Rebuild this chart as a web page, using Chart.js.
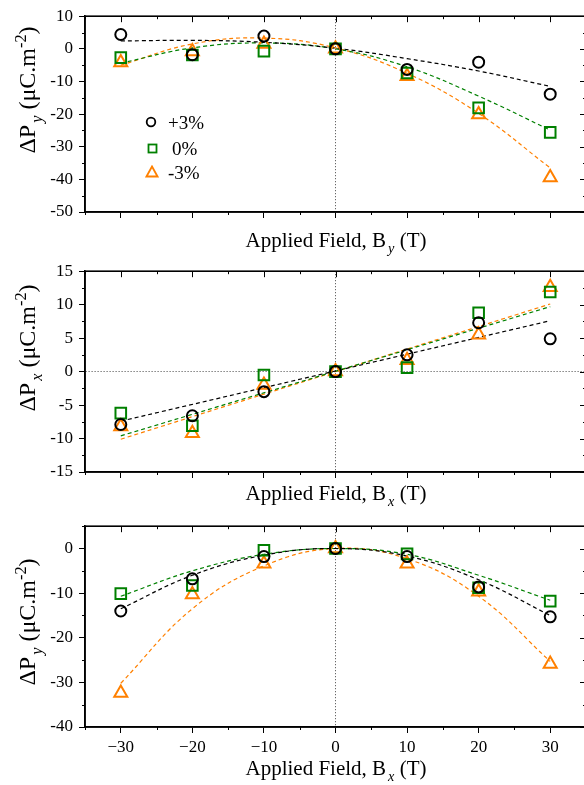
<!DOCTYPE html>
<html>
<head>
<meta charset="utf-8">
<script src="https://cdn.jsdelivr.net/npm/chart.js@4.4.1/dist/chart.umd.min.js"></script>
<style>
  body { margin: 0; width: 584px; height: 785px; overflow: hidden; background: #fff; position: relative; font-family: "Liberation Serif", serif; color: #000; }
  canvas { position: absolute; left: 0; }
  .xt { position: absolute; font-size: 21px; line-height: 1; transform: translate(-50%, -50%); white-space: nowrap; }
  .yt { position: absolute; font-size: 24px; line-height: 1; transform: translate(-50%, -50%) rotate(-90deg); white-space: nowrap; }
  sub, sup { font-size: 0.68em; line-height: 0; }
  sub { vertical-align: -0.45em; margin-left: 2px; }
  sup { vertical-align: 0.55em; }
  .lg { position: absolute; font-size: 19px; line-height: 1; transform: translateY(-50%); }
  .lm { position: absolute; }
</style>
</head>
<body>
<canvas id="p1" width="600" height="255" style="top:0px"></canvas>
<canvas id="p2" width="600" height="255" style="top:255px"></canvas>
<canvas id="p3" width="600" height="275" style="top:510px"></canvas>

<div class="yt" style="left:27px; top:90px">ΔP<sub><i>y</i></sub> (μC.m<sup>-2</sup>)</div>
<div class="yt" style="left:27px; top:348px">ΔP<sub><i>x</i></sub> (μC.m<sup>-2</sup>)</div>
<div class="yt" style="left:27px; top:622px">ΔP<sub><i>y</i></sub> (μC.m<sup>-2</sup>)</div>

<div class="xt" style="left:336px; top:240px">Applied Field, B<sub><i>y</i></sub> (T)</div>
<div class="xt" style="left:336px; top:493px">Applied Field, B<sub><i>x</i></sub> (T)</div>
<div class="xt" style="left:336px; top:768px">Applied Field, B<sub><i>x</i></sub> (T)</div>

<!-- legend, top panel -->
<svg class="lm" style="left:145px; top:116px" width="12" height="12"><circle cx="6" cy="6" r="4.3" fill="none" stroke="#000" stroke-width="1.8"/></svg>
<div class="lg" style="left:168px; top:122px">+3%</div>
<svg class="lm" style="left:147px; top:143px" width="11" height="11"><rect x="1.5" y="1.5" width="8" height="8" fill="none" stroke="#008000" stroke-width="1.8"/></svg>
<div class="lg" style="left:172px; top:148px">0%</div>
<svg class="lm" style="left:145px; top:165px" width="14" height="13"><polygon points="7,1.5 12.5,11.5 1.5,11.5" fill="none" stroke="#ff8000" stroke-width="1.8"/></svg>
<div class="lg" style="left:168px; top:172px">-3%</div>

<script>
// field values (T)
const fields = [-30, -20, -10, 0, 10, 20, 30];
const fitEnds = [-30, 30];

// top: dPy vs By
const pyByPlus = [4.4, -1.8, 3.9, 0, -6.3, -4.1, -13.9];
const pyByZero = [-2.7, -1.9, -0.7, 0, -7.4, -18.1, -25.6];
const pyByMinus = [-4.2, -0.8, 1.5, 0, -8.4, -20.1, -39.4];
const pyByFitPlus = [2.4, 2.6, 2.0, 0.2, -3.0, -6.8, -11.5];
const pyByFitZero = [-4.4, 0.3, 1.8, 0, -5.5, -14.5, -24.9];
const pyByFitMinus = [-5.0, 1.5, 3.3, 0.3, -7.5, -19.8, -36.5];

// middle: dPx vs Bx
const pxBxPlus = [-7.9, -6.6, -3.0, 0, 2.5, 7.3, 4.9];
const pxBxZero = [-6.2, -8.1, -0.5, 0, 0.6, 8.8, 11.9];
const pxBxMinus = [-8.2, -9.2, -2.0, 0, 1.7, 5.5, 12.6];
const pxBxFitPlus = [-7.4, 7.6];
const pxBxFitZero = [-9.6, 9.7];
const pxBxFitMinus = [-10.1, 10.1];

// bottom: dPy vs Bx
const pyBxPlus = [-14.0, -6.8, -1.8, 0, -1.8, -8.6, -15.3];
const pyBxZero = [-10.1, -8.3, -0.4, 0, -1.2, -8.8, -11.8];
const pyBxMinus = [-32.4, -10.3, -3.4, 0, -3.4, -9.7, -25.9];
const pyBxFitPlus = [-13.5, -6.0, -1.5, 0, -1.7, -7.0, -15.0];
const pyBxFitZero = [-10.7, -5.0, -1.3, 0, -1.3, -6.0, -11.6];
const pyBxFitMinus = [-30.2, -13.5, -3.9, 0, -2.3, -10.7, -25.3];

const black = '#000000';
const green = '#008000';
const orange = '#ff8000';
const tickFont = { family: 'Liberation Serif', size: 17 };

function pts(xs, ys) {
  return xs.map((x, i) => ({ x: x, y: ys[i] }));
}

function markers(ys, color, style, r) {
  return {
    data: pts(fields, ys),
    showLine: false,
    pointStyle: style,
    pointRadius: r,
    pointBorderWidth: 2,
    pointBorderColor: color,
    pointBackgroundColor: 'rgba(0,0,0,0)',
  };
}

function fitLine(xs, ys, color) {
  return {
    data: pts(xs, ys),
    showLine: true,
    pointRadius: 0,
    borderColor: color,
    borderWidth: 1.2,
    borderDash: [4, 3],
    tension: 0.4,
    fill: false,
  };
}

function isMajor(v, step) {
  return Math.abs(v % step) < 1e-6;
}

// box round the plot + inward ticks on top/right + short minor ticks
const framePlugin = {
  id: 'frame',
  afterDraw(chart, args, opts) {
    const { ctx, chartArea: a } = chart;
    const xs = chart.scales.x;
    const ys = chart.scales.y;
    ctx.save();
    ctx.strokeStyle = '#000';
    ctx.lineWidth = 1.6;
    ctx.strokeRect(a.left, a.top, a.right - a.left, a.bottom - a.top);
    ctx.lineWidth = 1;
    ctx.beginPath();
    xs.ticks.forEach(t => {
      const px = Math.round(xs.getPixelForValue(t.value)) + 0.5;
      const major = isMajor(t.value, opts.xMajor);
      ctx.moveTo(px, a.top);
      ctx.lineTo(px, a.top + (major ? 6 : 3));
      if (!major) {
        ctx.moveTo(px, a.bottom);
        ctx.lineTo(px, a.bottom + 3);
      }
    });
    ys.ticks.forEach(t => {
      const py = Math.round(ys.getPixelForValue(t.value)) + 0.5;
      const major = isMajor(t.value, opts.yMajor);
      ctx.moveTo(a.right, py);
      ctx.lineTo(a.right - (major ? 6 : 3), py);
      if (!major) {
        ctx.moveTo(a.left, py);
        ctx.lineTo(a.left - 3, py);
      }
    });
    ctx.stroke();
    ctx.restore();
  }
};

function makePanel(id, datasets, yMin, yMax, yStep, yMajor, yZeroLine, showX, xHeight, padTop) {
  return new Chart(document.getElementById(id), {
    type: 'scatter',
    data: { datasets: datasets },
    options: {
      responsive: false,
      animation: false,
      layout: { padding: { top: padTop, right: 14, left: 0, bottom: 0 } },
      plugins: {
        legend: { display: false },
        tooltip: { enabled: false },
        frame: { xMajor: 10, yMajor: yMajor },
      },
      scales: {
        x: {
          type: 'linear',
          min: -35,
          max: 35,
          ticks: {
            stepSize: 5,
            display: showX,
            autoSkip: false,
            maxRotation: 0,
            padding: 4,
            color: '#000',
            font: tickFont,
            callback: v => isMajor(v, 10) ? (v < 0 ? '\u2212' + Math.abs(v) : String(v)) : '',
          },
          grid: {
            color: c => (c.tick && c.tick.value === 0) ? '#444' : 'rgba(0,0,0,0)',
            tickColor: c => (c.tick && isMajor(c.tick.value, 10)) ? '#000' : 'rgba(0,0,0,0)',
            tickLength: 6,
            lineWidth: 1,
          },
          border: { color: '#000', width: 1.6, dash: [1, 2] },
          afterFit: s => { s.height = xHeight; },
        },
        y: {
          min: yMin,
          max: yMax,
          ticks: {
            stepSize: yStep,
            autoSkip: false,
            padding: 6,
            color: '#000',
            font: tickFont,
            callback: v => isMajor(v, yMajor) ? String(v) : '',
          },
          grid: {
            color: c => (yZeroLine && c.tick && c.tick.value === 0) ? '#444' : 'rgba(0,0,0,0)',
            tickColor: c => (c.tick && isMajor(c.tick.value, yMajor)) ? '#000' : 'rgba(0,0,0,0)',
            tickLength: 6,
            lineWidth: 1,
          },
          border: { color: '#000', width: 1.6, dash: [1, 2] },
          afterFit: s => { s.width = 85; },
        },
      },
    },
    plugins: [framePlugin],
  });
}

makePanel('p1', [
  markers(pyByPlus, black, 'circle', 5.5),
  markers(pyByZero, green, 'rect', 7.5),
  markers(pyByMinus, orange, 'triangle', 7.5),
  fitLine(fields, pyByFitPlus, black),
  fitLine(fields, pyByFitZero, green),
  fitLine(fields, pyByFitMinus, orange),
], -50, 10, 5, 10, false, false, 43, 12);

makePanel('p2', [
  markers(pxBxPlus, black, 'circle', 5.5),
  markers(pxBxZero, green, 'rect', 7.5),
  markers(pxBxMinus, orange, 'triangle', 7.5),
  fitLine(fitEnds, pxBxFitPlus, black),
  fitLine(fitEnds, pxBxFitZero, green),
  fitLine(fitEnds, pxBxFitMinus, orange),
], -15, 15, 2.5, 5, true, false, 38, 16);

makePanel('p3', [
  markers(pyBxPlus, black, 'circle', 5.5),
  markers(pyBxZero, green, 'rect', 7.5),
  markers(pyBxMinus, orange, 'triangle', 7.5),
  fitLine(fields, pyBxFitPlus, black),
  fitLine(fields, pyBxFitZero, green),
  fitLine(fields, pyBxFitMinus, orange),
], -40, 5, 5, 10, false, true, 58, 15);
</script>
</body>
</html>
